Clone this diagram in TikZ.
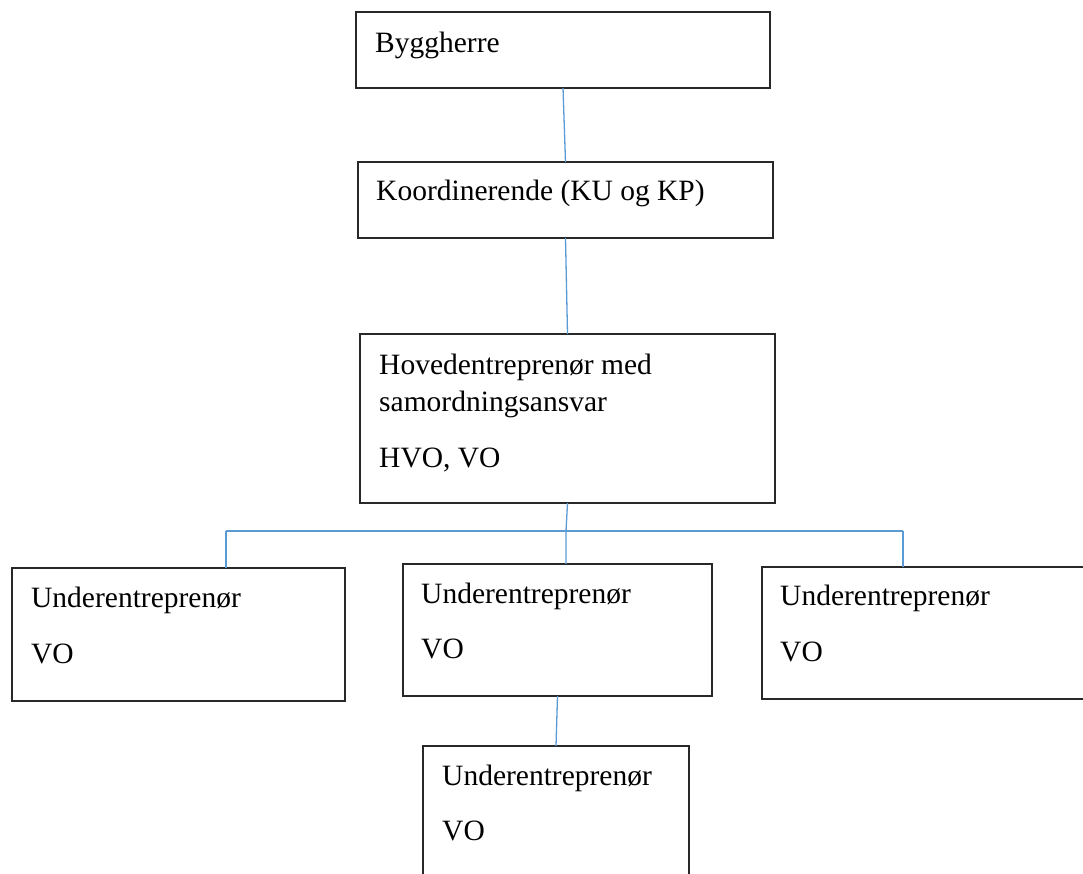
\documentclass[tikz,border=0pt]{standalone}
\usepackage{fontspec}
\setmainfont{Liberation Serif}
\definecolor{linkblue}{RGB}{91,155,213}
\definecolor{boxgray}{RGB}{40,40,40}
\tikzset{
  box/.style={draw=boxgray, line width=1.8pt, rectangle},
  frame/.style={minimum width=#1, anchor=north west, draw=none, inner sep=0pt, outer sep=0pt},
  lbl/.style={anchor=base west, inner sep=0pt, font=\fontsize{29.5}{36}\selectfont, text=black},
  link/.style={draw=linkblue, line width=1.3pt}
}
\begin{document}
\begin{tikzpicture}[x=1pt,y=-1pt]
\useasboundingbox (0,0) rectangle (1083,873);
\clip (0,0) rectangle (1083,873);
% boxes
\node[frame=414pt, minimum height=76pt] (byg) at (356,12) {};
\node[frame=415pt, minimum height=76pt] (koo) at (358,162) {};
\node[frame=415pt, minimum height=169pt] (hov) at (360,334) {};
\node[frame=333pt, minimum height=133pt] (left) at (12,568) {};
\node[frame=309pt, minimum height=132pt] (mid) at (403,564) {};
\node[frame=340pt, minimum height=132pt] (right) at (762,567) {};
\node[frame=266pt, minimum height=140pt] (bot) at (423,746) {};
\foreach \n in {byg,koo,hov,left,mid,right,bot}{
  \draw[box] (\n.north west) rectangle (\n.south east);
}
% texts
\node[lbl] (t1) at (375,52) {Byggherre};
\node[lbl] (t2) at (376,200) {Koordinerende (KU og KP)};
\node[lbl] (t3a) at (379,374) {Hovedentreprenør med};
\node[lbl] (t3b) at (379,411) {samordningsansvar};
\node[lbl] (t3c) at (379,467) {HVO, VO};
\node[lbl] (t4a) at (31,607) {Underentreprenør};
\node[lbl] (t4b) at (31,663) {VO};
\node[lbl] (t5a) at (421,603) {Underentreprenør};
\node[lbl] (t5b) at (421,658) {VO};
\node[lbl] (t6a) at (780,605) {Underentreprenør};
\node[lbl] (t6b) at (780,661) {VO};
\node[lbl] (t7a) at (442,785) {Underentreprenør};
\node[lbl] (t7b) at (442,840) {VO};
% connectors
\coordinate (busL) at (226,531);
\coordinate (busR) at (903,531);
\coordinate (busM) at (566,531);
\draw[link] (byg.south) -- (koo.north);
\draw[link] (koo.south) -- (hov.north);
\draw[link] (busL) -- (busR);
\draw[link] (busL) -- (busL |- left.north);
\draw[link] (busR) -- (busR |- right.north);
\draw[link] (hov.south) -- (busM) -- (busM |- mid.north);
\draw[link] (mid.south) -- (bot.north);
\end{tikzpicture}
\end{document}
